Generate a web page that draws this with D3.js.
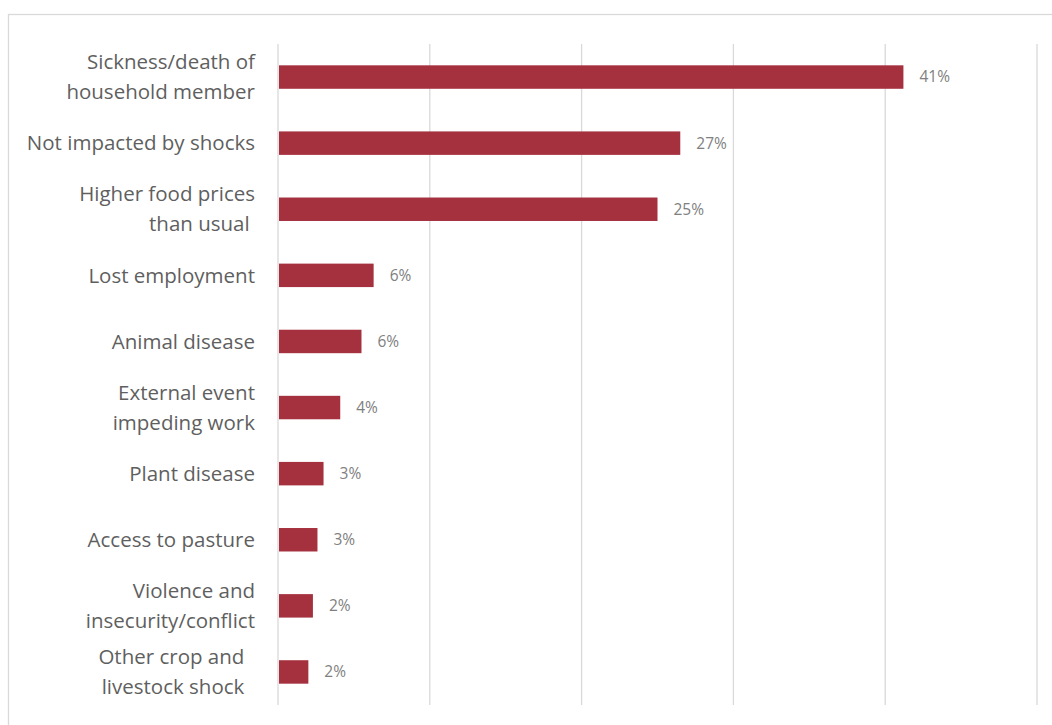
<!DOCTYPE html>
<html>
<head>
<meta charset="utf-8">
<script src="https://cdn.jsdelivr.net/npm/d3@7"></script>
<style>
  body { margin: 0; background: #fff; }
  svg { display: block; font-family: "Open Sans", Lato, sans-serif; }
  .cat { fill: #5f5f5f; font-size: 20.5px; white-space: pre; }
  .val { fill: #808080; font-size: 15.5px; }
</style>
</head>
<body>
<div class="chart"></div>
<script>
// categories, top to bottom (lines split as in the picture)
const categories = [
  ["Sickness/death of", "household member"],
  ["Not impacted by shocks"],
  ["Higher food prices", "than usual "],
  ["Lost employment"],
  ["Animal disease"],
  ["External event", "impeding work"],
  ["Plant disease"],
  ["Access to pasture"],
  ["Violence and", "insecurity/conflict"],
  ["Other crop and  ", "livestock shock  "]
];
// share of households (%)
const values = [41.2, 26.5, 25.0, 6.3, 5.5, 4.1, 3.0, 2.6, 2.3, 2.0];
const xTicks = [0, 10, 20, 30, 40, 50];

const W = 1052, H = 725;
const margin = {top: 44, right: 15, bottom: 20, left: 278};

const svg = d3.select(".chart").append("svg")
    .attr("width", W)
    .attr("height", H);

// outer frame
svg.append("rect")
    .attr("x", 8.5).attr("y", 14.5)
    .attr("width", 1100).attr("height", 800)
    .attr("fill", "none")
    .attr("stroke", "#d9d9d9")
    .attr("stroke-width", 1.3);

const x = d3.scaleLinear().domain([0, 50]).range([margin.left, margin.left + 759]);
const y = d3.scaleBand()
    .domain(d3.range(categories.length))
    .range([margin.top, 705])
    .paddingInner(0.645)
    .paddingOuter(0.3225);

// gridlines
svg.append("g")
  .selectAll("line")
  .data(xTicks)
  .join("line")
    .attr("x1", d => x(d)).attr("x2", d => x(d))
    .attr("y1", margin.top).attr("y2", 705)
    .attr("stroke", "#d9d9d9")
    .attr("stroke-width", 1.3);

// bars
svg.append("g")
  .selectAll("rect")
  .data(values)
  .join("rect")
    .attr("x", x(0) + 1)
    .attr("y", (d, i) => y(i))
    .attr("width", d => x(d) - x(0) - 1)
    .attr("height", y.bandwidth())
    .attr("fill", "#a5313f");

// value labels
svg.append("g")
  .selectAll("text")
  .data(values)
  .join("text")
    .attr("class", "val")
    .attr("x", d => x(d) + 16)
    .attr("y", (d, i) => y(i) + y.bandwidth() / 2)
    .attr("dy", "0.35em")
    .text(d => Math.round(d) + "%");

// category labels
const lab = svg.append("g")
  .selectAll("text")
  .data(categories)
  .join("text")
    .attr("class", "cat")
    .attr("text-anchor", "end")
    .attr("x", 255)
    .attr("y", (d, i) => y(i) + y.bandwidth() / 2);

lab.each(function(lines) {
  const t = d3.select(this);
  const off = -(lines.length - 1) * 15;
  lines.forEach((s, k) => {
    t.append("tspan")
      .attr("x", 255)
      .attr("y", +t.attr("y") + off + k * 30)
      .attr("dy", "0.35em")
      .text(s);
  });
});
</script>
</body>
</html>
